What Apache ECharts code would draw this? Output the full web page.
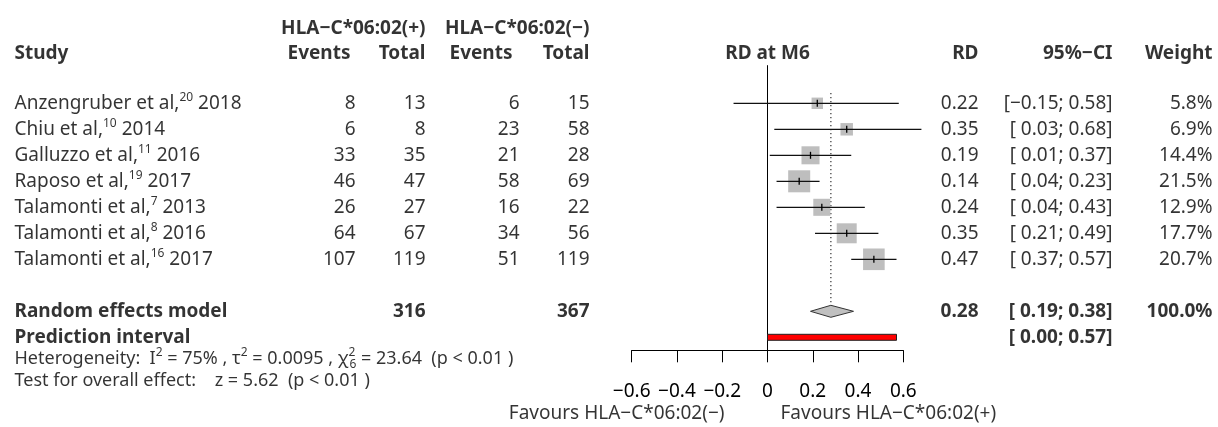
<!DOCTYPE html>
<html>
<head>
<meta charset="utf-8">
<script src="https://cdn.jsdelivr.net/npm/echarts@6/dist/echarts.min.js"></script>
<style>
html,body{margin:0;padding:0;background:#fff;}
#c{width:1218px;height:427px;}
</style>
</head>
<body>
<div id="c"></div>
<script>
// ---------------- data ----------------
const studyNames = ['Anzengruber et al,', 'Chiu et al,', 'Galluzzo et al,', 'Raposo et al,', 'Talamonti et al,', 'Talamonti et al,', 'Talamonti et al,'];
const studyRefs = ['20', '10', '11', '19', '7', '8', '16'];
const studyYears = ['2018', '2014', '2016', '2017', '2013', '2016', '2017'];
const eventsPos = [8, 6, 33, 46, 26, 64, 107];
const totalPos = [13, 8, 35, 47, 27, 67, 119];
const eventsNeg = [6, 23, 21, 58, 16, 34, 51];
const totalNeg = [15, 58, 28, 69, 22, 56, 119];
const rd = [0.22, 0.35, 0.19, 0.14, 0.24, 0.35, 0.47];
const ciLow = [-0.15, 0.03, 0.01, 0.04, 0.04, 0.21, 0.37];
const ciHigh = [0.58, 0.68, 0.37, 0.23, 0.43, 0.49, 0.57];
const weights = [5.8, 6.9, 14.4, 21.5, 12.9, 17.7, 20.7];
const pooled = [0.28, 0.19, 0.38];          // RD, lower, upper
const predInterval = [0.00, 0.57];
const pooledTotals = [316, 367];
const pooledWeight = [100.0];
const hetero = { I2: '75%', tau2: '0.0095', Q: '23.64', df: '6', p: '< 0.01' };
const overall = { z: '5.62', p: '< 0.01' };
const axisTicks = { min: -0.6, max: 0.6, step: 0.2 };
const groupLabels = ['HLA\u2212C*06:02(+)', 'HLA\u2212C*06:02(\u2212)'];
const favourLabels = ['Favours HLA\u2212C*06:02(\u2212)', 'Favours HLA\u2212C*06:02(+)'];

// ---------------- layout ----------------
const FONT = 'Noto Sans';
const FS = 19;
const L = {
  nameX: 14, evPosX: 356, evPosHX: 351, totPosX: 426, evNegX: 520, evNegHX: 513, totNegX: 590,
  plotMid: 767.5, rdX: 979, ciX: 1113, wX: 1213, favLX: 725, favRX: 780,
  yH1: -2.88, yH2: -1.93, ySum: 8, yPred: 9, yHet: 9.82, yTest: 10.66, yFav: 11.95
};
const yMin = -1.45, yMax = 9.5;
const gridTop = 65.6, gridBottom = 427 - 350.3;

const MINUS = '\u2212';
const fmt2 = v => (v < 0 ? MINUS : '') + Math.abs(v).toFixed(2);
const fmtCI = (lo, hi) => '[' + (lo < 0 ? '' : ' ') + fmt2(lo) + '; ' + fmt2(hi) + ']';

const rich = {
  sup: { fontFamily: FONT, fontSize: 12, verticalAlign: 'top', color: '#000' },
  supz: { fontFamily: FONT, fontSize: 12, verticalAlign: 'top', color: '#000', width: 1 },
  sub: { fontFamily: FONT, fontSize: 12, verticalAlign: 'bottom', color: '#000' }
};

function textSeries(items, align, bold, size) {
  return {
    type: 'scatter', xAxisIndex: 1, yAxisIndex: 1, symbolSize: 1, silent: true, clip: false,
    animation: false, itemStyle: { color: 'rgba(0,0,0,0)' }, z: 10,
    data: items.map(d => ({ value: [d[0], d[1]], t: d[2] })),
    label: {
      show: true,
      position: align === 'right' ? 'left' : (align === 'left' ? 'right' : 'inside'),
      distance: 0,
      formatter: p => p.data.t,
      fontFamily: FONT, fontSize: size || FS, fontWeight: bold ? 'bold' : 'normal', color: '#000',
      lineHeight: 24,
      rich: rich
    }
  };
}

const rows = studyNames.map((_, i) => i);

const series = [];
// headers
series.push(textSeries([[L.totPosX, L.yH1, groupLabels[0]], [L.totNegX, L.yH1, groupLabels[1]],
  [L.evPosHX, L.yH2, 'Events'], [L.totPosX, L.yH2, 'Total'], [L.evNegHX, L.yH2, 'Events'], [L.totNegX, L.yH2, 'Total'],
  [L.rdX, L.yH2, 'RD'], [L.ciX, L.yH2, '95%' + MINUS + 'CI'], [L.wX, L.yH2, 'Weight']], 'right', true));
series.push(textSeries([[L.nameX, L.yH2, 'Study']], 'left', true));
series.push(textSeries([[L.plotMid, L.yH2, 'RD at M6']], 'center', true));
// study rows
series.push(textSeries(rows.map(i => [L.nameX, i, studyNames[i] + '{sup|' + studyRefs[i] + '} ' + studyYears[i]]), 'left', false));
series.push(textSeries([].concat(
  rows.map(i => [L.evPosX, i, String(eventsPos[i])]),
  rows.map(i => [L.totPosX, i, String(totalPos[i])]),
  rows.map(i => [L.evNegX, i, String(eventsNeg[i])]),
  rows.map(i => [L.totNegX, i, String(totalNeg[i])]),
  rows.map(i => [L.rdX, i, fmt2(rd[i])]),
  rows.map(i => [L.ciX, i, fmtCI(ciLow[i], ciHigh[i])]),
  rows.map(i => [L.wX, i, weights[i].toFixed(1) + '%'])
), 'right', false));
// summary rows
series.push(textSeries([[L.nameX, L.ySum, 'Random effects model'], [L.nameX, L.yPred, 'Prediction interval']], 'left', true));
series.push(textSeries([[L.totPosX, L.ySum, String(pooledTotals[0])], [L.totNegX, L.ySum, String(pooledTotals[1])],
  [L.rdX, L.ySum, fmt2(pooled[0])], [L.ciX, L.ySum, fmtCI(pooled[1], pooled[2])], [L.wX, L.ySum, pooledWeight[0].toFixed(1) + '%'],
  [L.ciX, L.yPred, fmtCI(predInterval[0], predInterval[1])]], 'right', true));
// footer
series.push(textSeries([
  [L.nameX, L.yHet, 'Heterogeneity:  I{sup|2} = ' + hetero.I2 + ' , \u03c4{sup|2} = ' + hetero.tau2 + ' , \u03c7{supz|2}{sub|' + hetero.df + '} = ' + hetero.Q + '  (p ' + hetero.p + ' )'],
  [L.nameX, L.yTest, 'Test for overall effect:    z = ' + overall.z + '  (p ' + overall.p + ' )']
], 'left', false, 18));
series.push(textSeries([[L.favLX, L.yFav, favourLabels[0]]], 'right', false));
series.push(textSeries([[L.favRX, L.yFav, favourLabels[1]]], 'left', false));

// forest: dotted pooled line
series.push({
  type: 'custom', xAxisIndex: 0, yAxisIndex: 0, silent: true, animation: false, clip: false, z: 1,
  data: [[pooled[0]]],
  renderItem: (params, api) => {
    const a = api.coord([api.value(0), -0.4]);
    const b = api.coord([api.value(0), L.ySum - 0.27]);
    return { type: 'line', shape: { x1: a[0], y1: a[1], x2: b[0], y2: b[1] },
      style: { stroke: '#333', lineWidth: 1.2, lineDash: [1.3, 2.7] } };
  }
});
// forest: studies
series.push({
  type: 'custom', xAxisIndex: 0, yAxisIndex: 0, silent: true, animation: false, clip: false, z: 3,
  data: rows.map(i => [rd[i], ciLow[i], ciHigh[i], weights[i], i]),
  encode: { x: [0, 1, 2], y: 4 },
  renderItem: (params, api) => {
    const c = api.coord([api.value(0), api.value(4)]);
    const lo = api.coord([api.value(1), api.value(4)]);
    const hi = api.coord([api.value(2), api.value(4)]);
    const s = 4.75 * Math.sqrt(api.value(3));
    return { type: 'group', children: [
      { type: 'rect', shape: { x: c[0] - s / 2, y: c[1] - s / 2, width: s, height: s }, style: { fill: '#BEBEBE' } },
      { type: 'line', shape: { x1: lo[0], y1: c[1], x2: hi[0], y2: c[1] }, style: { stroke: '#111', lineWidth: 1.2 } },
      { type: 'line', shape: { x1: c[0], y1: c[1] - 3.5, x2: c[0], y2: c[1] + 3.5 }, style: { stroke: '#000', lineWidth: 1.3 } }
    ] };
  }
});
// forest: diamond
series.push({
  type: 'custom', xAxisIndex: 0, yAxisIndex: 0, silent: true, animation: false, clip: false, z: 3,
  data: [[pooled[0], pooled[1], pooled[2], L.ySum]],
  renderItem: (params, api) => {
    const y = api.value(3);
    const c = api.coord([api.value(0), y]);
    const lo = api.coord([api.value(1), y]);
    const hi = api.coord([api.value(2), y]);
    return { type: 'polygon', shape: { points: [[lo[0], c[1]], [c[0], c[1] - 6], [hi[0], c[1]], [c[0], c[1] + 6]] },
      style: { fill: '#C0C0C0', stroke: '#333', lineWidth: 1 } };
  }
});
// forest: prediction interval
series.push({
  type: 'custom', xAxisIndex: 0, yAxisIndex: 0, silent: true, animation: false, clip: false, z: 3,
  data: [[predInterval[0], predInterval[1], L.yPred]],
  renderItem: (params, api) => {
    const y = api.value(2);
    const a = api.coord([api.value(0), y]);
    const b = api.coord([api.value(1), y]);
    return { type: 'rect', shape: { x: a[0], y: a[1] - 3, width: b[0] - a[0], height: 6 },
      style: { fill: '#FF0000', stroke: '#222', lineWidth: 1 } };
  }
});

const chart = echarts.init(document.getElementById('c'), null, { renderer: 'canvas' });
chart.setOption({
  backgroundColor: '#fff',
  animation: false,
  grid: [
    { left: 631.7, right: 1218 - 903.3, top: gridTop, bottom: gridBottom, containLabel: false },
    { left: 0, right: 0, top: gridTop, bottom: gridBottom, containLabel: false }
  ],
  xAxis: [
    { type: 'value', gridIndex: 0, min: axisTicks.min, max: axisTicks.max, interval: axisTicks.step, position: 'bottom',
      axisLine: { show: true, onZero: false, lineStyle: { color: '#000', width: 1 } },
      axisTick: { show: true, inside: false, length: 12, lineStyle: { color: '#000', width: 1 } },
      splitLine: { show: false },
      axisLabel: { show: true, margin: 32, fontFamily: FONT, fontSize: FS, color: '#000',
        formatter: v => Math.abs(v) < 1e-9 ? '0' : (v < 0 ? MINUS : '') + Math.abs(v).toFixed(1) } },
    { type: 'value', gridIndex: 1, min: 0, max: 1218, show: false }
  ],
  yAxis: [
    { type: 'value', gridIndex: 0, min: yMin, max: yMax, inverse: true,
      axisLine: { show: true, onZero: true, lineStyle: { color: '#000', width: 1 } },
      axisTick: { show: false }, axisLabel: { show: false }, splitLine: { show: false } },
    { type: 'value', gridIndex: 1, min: yMin, max: yMax, inverse: true, show: false }
  ],
  series: series
});
</script>
</body>
</html>
